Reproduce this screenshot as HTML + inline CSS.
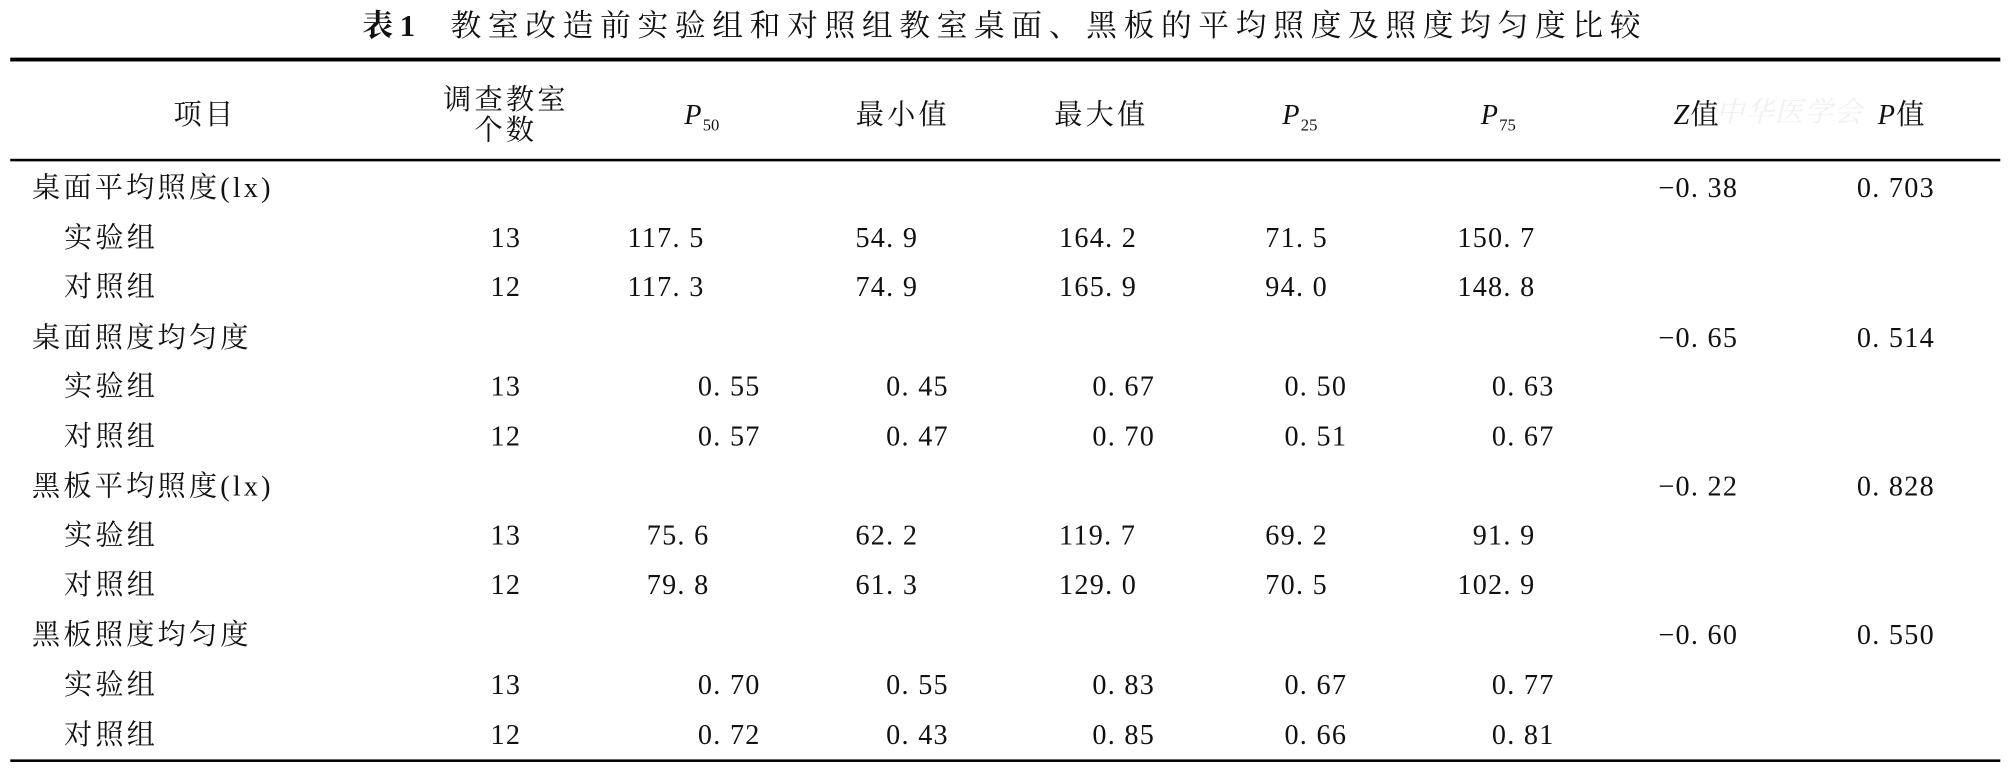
<!DOCTYPE html>
<html><head><meta charset="utf-8"><style>
html,body{margin:0;padding:0;background:#fff;overflow:hidden}
body{width:2008px;height:770px;position:relative}
#w{position:absolute;left:0;top:0;width:1568px;height:602px;transform:scale(1.2806);transform-origin:0 0;font-family:"Liberation Serif","Noto Serif CJK SC",serif;color:#111}
#w div{position:absolute;font-size:22px;line-height:22px;white-space:nowrap;letter-spacing:1px}
#w div.t{letter-spacing:2.5px}
.c{transform:translateX(-50%)}
.r{position:absolute;left:8px;width:1554px;background:#000}
i{font-style:italic}
sub{font-size:13px;vertical-align:-5px;letter-spacing:0}
</style></head><body><div id="w">
<div style="left:1340px;top:76px;color:#f0f0f0;font-size:22px;line-height:24px;font-style:italic">中华医学会</div>
<div style="left:283px;top:8px;font-size:24px;line-height:26px;letter-spacing:5.2px"><b>表1</b>&nbsp;&nbsp;教室改造前实验组和对照组教室桌面、黑板的平均照度及照度均匀度比较</div>
<span class="r" style="top:45px;height:3px"></span>
<span class="r" style="top:124px;height:1.5px"></span>
<span class="r" style="top:593px;height:1.5px"></span>
<div class="c t" style="left:160px;top:79px">项目</div>
<div class="c t" style="left:395px;top:66px;line-height:24px;text-align:center">调查教室<br>个数</div>
<div class="c" style="left:548px;top:79px"><i>P</i><sub>50</sub></div>
<div class="c t" style="left:705px;top:79px">最小值</div>
<div class="c t" style="left:860px;top:79px">最大值</div>
<div class="c" style="left:1015px;top:79px"><i>P</i><sub>25</sub></div>
<div class="c" style="left:1170px;top:79px"><i>P</i><sub>75</sub></div>
<div class="c" style="left:1325px;top:79px"><i>Z</i>值</div>
<div class="c" style="left:1485px;top:79px"><i>P</i>值</div>

<div class="t" style="left:25px;top:136px">桌面平均照度(lx)</div>
<div style="left:1295px;top:136px">−0. 38</div><div style="left:1450px;top:136px">0. 703</div>
<div class="t" style="left:50px;top:175px">实验组</div><div class="c" style="left:395px;top:175px">13</div>
<div style="left:490px;top:175px">117. 5</div><div style="left:668px;top:175px">54. 9</div><div style="left:827px;top:175px">164. 2</div><div style="left:988px;top:175px">71. 5</div><div style="left:1138px;top:175px">150. 7</div>
<div class="t" style="left:50px;top:213px">对照组</div><div class="c" style="left:395px;top:213px">12</div>
<div style="left:490px;top:213px">117. 3</div><div style="left:668px;top:213px">74. 9</div><div style="left:827px;top:213px">165. 9</div><div style="left:988px;top:213px">94. 0</div><div style="left:1138px;top:213px">148. 8</div>

<div class="t" style="left:25px;top:253px">桌面照度均匀度</div>
<div style="left:1295px;top:253px">−0. 65</div><div style="left:1450px;top:253px">0. 514</div>
<div class="t" style="left:50px;top:291px">实验组</div><div class="c" style="left:395px;top:291px">13</div>
<div style="left:545px;top:291px">0. 55</div><div style="left:692px;top:291px">0. 45</div><div style="left:853px;top:291px">0. 67</div><div style="left:1003px;top:291px">0. 50</div><div style="left:1165px;top:291px">0. 63</div>
<div class="t" style="left:50px;top:330px">对照组</div><div class="c" style="left:395px;top:330px">12</div>
<div style="left:545px;top:330px">0. 57</div><div style="left:692px;top:330px">0. 47</div><div style="left:853px;top:330px">0. 70</div><div style="left:1003px;top:330px">0. 51</div><div style="left:1165px;top:330px">0. 67</div>

<div class="t" style="left:25px;top:369px">黑板平均照度(lx)</div>
<div style="left:1295px;top:369px">−0. 22</div><div style="left:1450px;top:369px">0. 828</div>
<div class="t" style="left:50px;top:407px">实验组</div><div class="c" style="left:395px;top:407px">13</div>
<div style="left:505px;top:407px">75. 6</div><div style="left:668px;top:407px">62. 2</div><div style="left:827px;top:407px">119. 7</div><div style="left:988px;top:407px">69. 2</div><div style="left:1150px;top:407px">91. 9</div>
<div class="t" style="left:50px;top:446px">对照组</div><div class="c" style="left:395px;top:446px">12</div>
<div style="left:505px;top:446px">79. 8</div><div style="left:668px;top:446px">61. 3</div><div style="left:827px;top:446px">129. 0</div><div style="left:988px;top:446px">70. 5</div><div style="left:1138px;top:446px">102. 9</div>

<div class="t" style="left:25px;top:485px">黑板照度均匀度</div>
<div style="left:1295px;top:485px">−0. 60</div><div style="left:1450px;top:485px">0. 550</div>
<div class="t" style="left:50px;top:524px">实验组</div><div class="c" style="left:395px;top:524px">13</div>
<div style="left:545px;top:524px">0. 70</div><div style="left:692px;top:524px">0. 55</div><div style="left:853px;top:524px">0. 83</div><div style="left:1003px;top:524px">0. 67</div><div style="left:1165px;top:524px">0. 77</div>
<div class="t" style="left:50px;top:563px">对照组</div><div class="c" style="left:395px;top:563px">12</div>
<div style="left:545px;top:563px">0. 72</div><div style="left:692px;top:563px">0. 43</div><div style="left:853px;top:563px">0. 85</div><div style="left:1003px;top:563px">0. 66</div><div style="left:1165px;top:563px">0. 81</div>
</div></body></html>
